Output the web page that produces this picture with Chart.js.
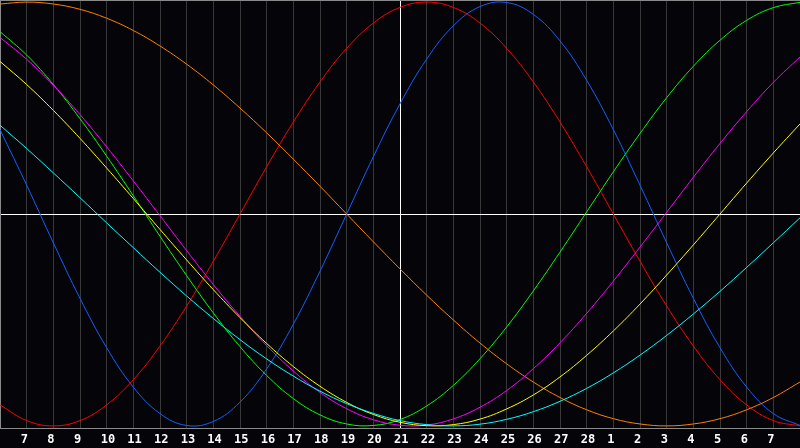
<!DOCTYPE html>
<html>
<head>
<meta charset="utf-8">
<script src="https://cdn.jsdelivr.net/npm/chart.js@4"></script>
<style>
  html, body { margin: 0; padding: 0; background: #050509; }
</style>
</head>
<body>
<canvas id="bioChart" width="800" height="448"></canvas>
<script>
// Jours affichés (le premier et le dernier tombent sur les bords)
const days = [6, 7, 8, 9, 10, 11, 12, 13, 14, 15, 16, 17, 18, 19, 20, 21, 22, 23, 24, 25, 26, 27, 28,
              1, 2, 3, 4, 5, 6, 7, 8];
const todayIndex = 15;

// Valeurs, en % (-100 .. 100)
const physical     = [39.8, 13.6, -13.6, -39.8, -63.1, -81.7, -94.2, -99.8, -97.9, -88.8, -73.1, -52.0, -27.0, 0, 27.0, 52.0, 73.1, 88.8, 97.9, 99.8, 94.2, 81.7, 63.1, 39.8, 13.6, -13.6, -39.8, -63.1, -81.7, -94.2, -99.8];
const emotional    = [-90.1, -97.5, -100, -97.5, -90.1, -78.2, -62.3, -43.4, -22.3, 0, 22.3, 43.4, 62.3, 78.2, 90.1, 97.5, 100, 97.5, 90.1, 78.2, 62.3, 43.4, 22.3, 0, -22.3, -43.4, -62.3, -78.2, -90.1, -97.5, -100];
const intellectual = [86.1, 75.0, 61.1, 45.0, 27.3, 8.6, -10.5, -29.1, -46.7, -62.6, -76.2, -87.1, -94.8, -99.1, -99.8, -97.0, -90.6, -80.9, -68.3, -53.3, -36.3, -18.0, 1.0, 19.9, 38.0, 54.9, 69.7, 82.0, 91.4, 97.4, 99.9];
const intuitive    = [83.3, 73.0, 60.8, 46.9, 31.7, 15.6, -0.8, -17.3, -33.3, -48.3, -62.1, -74.1, -84.2, -91.9, -97.1, -99.7, -99.6, -96.7, -91.2, -83.3, -73.0, -60.8, -46.9, -31.7, -15.6, 0.8, 17.3, 33.3, 48.3, 62.1, 74.1];
const aesthetic    = [72.0, 61.1, 48.9, 35.7, 21.7, 7.3, -7.3, -21.7, -35.7, -48.9, -61.1, -72.0, -81.3, -88.9, -94.6, -98.3, -99.9, -99.4, -96.8, -92.0, -85.4, -76.9, -66.7, -55.2, -42.5, -28.8, -14.6, 0, 14.6, 28.8, 42.5];
const awareness    = [99.1, 100, 99.1, 96.6, 92.4, 86.6, 79.3, 70.7, 60.9, 50.0, 38.3, 25.9, 13.1, 0, -13.1, -25.9, -38.3, -50.0, -60.9, -70.7, -79.3, -86.6, -92.4, -96.6, -99.1, -100, -99.1, -96.6, -92.4, -86.6, -79.3];
const spiritual    = [41.9, 30.9, 19.4, 7.7, -4.2, -15.9, -27.5, -38.7, -49.3, -59.3, -68.4, -76.5, -83.6, -89.5, -94.1, -97.5, -99.4, -100, -99.2, -96.9, -93.3, -88.4, -82.3, -75.0, -66.6, -57.3, -47.2, -36.5, -25.2, -13.6, -1.8];

function serie(label, data, color) {
    return {
        label: label,
        data: data,
        borderColor: color,
        borderWidth: 1,
        pointRadius: 0,
        pointBorderWidth: 0,
        tension: 0.4,
        fill: false,
    };
}

// Fond sombre + trait du haut
const cadre = {
    id: "cadre",
    beforeDraw(chart) {
        const ctx = chart.ctx;
        ctx.save();
        ctx.fillStyle = "#050509";
        ctx.fillRect(0, 0, chart.width, chart.height);
        ctx.restore();
    },
    beforeDatasetsDraw(chart) {
        const ctx = chart.ctx;
        const a = chart.chartArea;
        ctx.save();
        ctx.strokeStyle = "#8a8a8a";
        ctx.lineWidth = 1;
        ctx.beginPath();
        ctx.moveTo(a.left, a.top + 0.5);
        ctx.lineTo(a.right, a.top + 0.5);
        ctx.stroke();
        ctx.restore();
    },
};

new Chart(document.getElementById("bioChart"), {
    type: "line",
    data: {
        labels: days,
        datasets: [
            serie("Spirituel", spiritual, "#00ffff"),
            serie("Esthétique", aesthetic, "#ffff00"),
            serie("Intuitif", intuitive, "#ff00ff"),
            serie("Intellectuel", intellectual, "#00ff00"),
            serie("Conscience", awareness, "#ff8000"),
            serie("Émotionnel", emotional, "#ff0000"),
            serie("Physique", physical, "#1060ff"),
        ],
    },
    options: {
        responsive: false,
        animation: false,
        layout: { padding: 0, autoPadding: false },
        plugins: {
            legend: { display: false },
            tooltip: { enabled: false },
        },
        scales: {
            x: {
                type: "category",
                offset: false,
                grid: {
                    color: (c) => c.index === todayIndex ? "#ffffff" : "#383838",
                    drawTicks: false,
                },
                border: { color: "#8a8a8a" },
                ticks: {
                    color: "#ffffff",
                    font: { family: "DejaVu Sans Mono", size: 12, weight: "bold" },
                    autoSkip: false,
                    maxRotation: 0,
                    align: "start",
                    labelOffset: -6,
                    padding: 5,
                    callback: function (v, i) {
                        return (i === 0 || i === days.length - 1) ? "" : this.getLabelForValue(v);
                    },
                },
                afterFit: (s) => {
                    s.height = 20;
                    s.paddingLeft = 0;
                    s.paddingRight = 0;
                },
            },
            y: {
                min: -101,
                max: 101,
                ticks: { display: false, stepSize: 101 },
                grid: {
                    color: (c) => c.tick.value === 0 ? "#ffffff" : "rgba(0,0,0,0)",
                    drawTicks: false,
                },
                border: { color: "#8a8a8a" },
                afterFit: (s) => {
                    s.width = 0;
                    s.paddingTop = 0;
                    s.paddingBottom = 0;
                },
            },
        },
    },
    plugins: [cadre],
});
</script>
</body>
</html>
